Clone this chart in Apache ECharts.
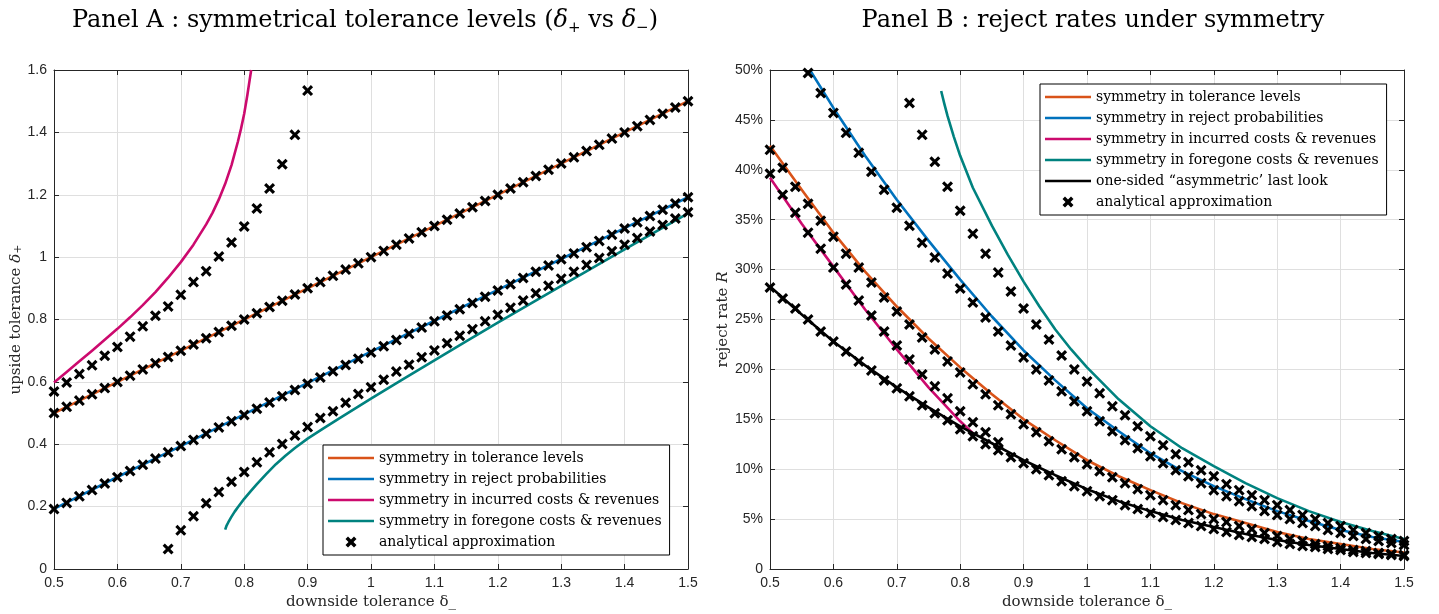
<!DOCTYPE html>
<html>
<head>
    <meta charset="UTF-8">
    <title>Symmetry panels</title>
    <style>
        html, body { margin: 0; padding: 0; background: #fff; }
        #chart { width: 1439px; height: 614px; }
    </style>
    <script src="https://cdn.jsdelivr.net/npm/echarts@6/dist/echarts.min.js"></script>
</head>
<body>
<div id="chart"></div>
<script>
    // downside tolerance grid used by the approximation markers (step 0.02)
    var dm = [0.50, 0.52, 0.54, 0.56, 0.58, 0.60, 0.62, 0.64, 0.66, 0.68, 0.70, 0.72, 0.74, 0.76, 0.78, 0.80, 0.82,
        0.84, 0.86, 0.88, 0.90, 0.92, 0.94, 0.96, 0.98, 1.00, 1.02, 1.04, 1.06, 1.08, 1.10, 1.12, 1.14, 1.16, 1.18,
        1.20, 1.22, 1.24, 1.26, 1.28, 1.30, 1.32, 1.34, 1.36, 1.38, 1.40, 1.42, 1.44, 1.46, 1.48, 1.50];

    // ---- Panel A : upside tolerance vs downside tolerance
    var aTolX = [0.5, 1.0, 1.5];
    var aTolY = [0.5, 1.0, 1.5];
    var aRejX = [0.5, 0.6, 0.7, 0.8, 0.9, 1.0, 1.1, 1.2, 1.3, 1.4, 1.5];
    var aRejY = [0.193, 0.295, 0.394, 0.496, 0.597, 0.697, 0.796, 0.895, 0.994, 1.093, 1.192];
    var aIncX = [0.5, 0.52, 0.54, 0.56, 0.58, 0.6, 0.62, 0.64, 0.66, 0.68, 0.7, 0.72, 0.74, 0.75, 0.76, 0.77, 0.78, 0.79, 0.795, 0.8, 0.805, 0.811];
    var aIncY = [0.598, 0.632, 0.666, 0.700, 0.735, 0.770, 0.807, 0.846, 0.888, 0.934, 0.984, 1.040, 1.105, 1.142, 1.185, 1.235, 1.295, 1.37, 1.412, 1.46, 1.52, 1.60];
    var aForX = [0.770, 0.772, 0.775, 0.78, 0.785, 0.79, 0.80, 0.81, 0.82, 0.835, 0.85, 0.865, 0.88, 0.9, 0.925, 0.95, 1.0, 1.05, 1.1, 1.15, 1.2, 1.3, 1.4, 1.5];
    var aForY = [0.126, 0.138, 0.150, 0.168, 0.184, 0.198, 0.225, 0.249, 0.272, 0.305, 0.336, 0.363, 0.388, 0.418, 0.451, 0.483, 0.546, 0.608, 0.669, 0.730, 0.790, 0.908, 1.025, 1.140];

    var aTolCross = [0.50, 0.52, 0.54, 0.56, 0.58, 0.60, 0.62, 0.64, 0.66, 0.68, 0.70, 0.72, 0.74, 0.76, 0.78, 0.80, 0.82,
        0.84, 0.86, 0.88, 0.90, 0.92, 0.94, 0.96, 0.98, 1.00, 1.02, 1.04, 1.06, 1.08, 1.10, 1.12, 1.14, 1.16, 1.18,
        1.20, 1.22, 1.24, 1.26, 1.28, 1.30, 1.32, 1.34, 1.36, 1.38, 1.40, 1.42, 1.44, 1.46, 1.48, 1.50];
    var aRejCross = [0.192, 0.212, 0.233, 0.253, 0.274, 0.294, 0.314, 0.334, 0.354, 0.374, 0.394, 0.414, 0.434, 0.454,
        0.474, 0.494, 0.514, 0.534, 0.554, 0.574, 0.594, 0.614, 0.634, 0.654, 0.674, 0.694, 0.714, 0.734, 0.754, 0.774,
        0.794, 0.813, 0.833, 0.853, 0.873, 0.893, 0.913, 0.933, 0.953, 0.973, 0.993, 1.012, 1.032, 1.052, 1.072, 1.092,
        1.112, 1.132, 1.152, 1.172, 1.192];
    var aIncCross = [0.569, 0.598, 0.625, 0.653, 0.684, 0.712, 0.745, 0.778, 0.812, 0.842, 0.879, 0.920, 0.955, 1.002,
        1.047, 1.098, 1.156, 1.220, 1.298, 1.392, 1.534];          // from 0.50
    var aForCross = [0.064, 0.124, 0.169, 0.211, 0.247, 0.280, 0.311, 0.342, 0.374, 0.401, 0.428, 0.455, 0.484, 0.506,
        0.533, 0.561, 0.583, 0.607, 0.633, 0.655, 0.679, 0.701, 0.724, 0.748, 0.769, 0.794, 0.815, 0.838, 0.861, 0.884,
        0.908, 0.931, 0.953, 0.975, 0.997, 1.019, 1.040, 1.061, 1.082, 1.103, 1.124, 1.144];   // from 0.68

    // ---- Panel B : reject rates (%)
    var bX = [0.5, 0.55, 0.6, 0.65, 0.7, 0.75, 0.8, 0.85, 0.9, 0.95, 1.0, 1.05, 1.1, 1.15, 1.2, 1.25, 1.3, 1.35, 1.4, 1.45, 1.5];
    var bTolY = [42.4, 38.0, 33.7, 29.8, 26.3, 23.1, 20.2, 17.5, 15.0, 12.9, 10.9, 9.3, 7.9, 6.6, 5.5, 4.6, 3.7, 3.0, 2.5, 2.0, 1.65];
    var bOneY = [28.3, 25.5, 22.8, 20.4, 18.2, 16.2, 14.3, 12.6, 10.9, 9.4, 8.0, 6.8, 5.8, 4.9, 4.2, 3.5, 2.9, 2.4, 2.0, 1.6, 1.3];
    var bRejX = [0.563, 0.6, 0.65, 0.7, 0.75, 0.8, 0.85, 0.9, 0.95, 1.0, 1.05, 1.1, 1.15, 1.2, 1.25, 1.3, 1.35, 1.4, 1.45, 1.5];
    var bRejY = [50.0, 46.2, 41.4, 37.0, 32.9, 29.0, 25.3, 21.9, 18.9, 16.1, 13.8, 11.6, 9.8, 8.3, 7.0, 5.8, 4.8, 3.9, 3.2, 2.7];
    var bIncX = [0.5, 0.55, 0.6, 0.65, 0.7, 0.75, 0.8, 0.82];
    var bIncY = [39.2, 34.6, 30.3, 26.0, 22.0, 18.2, 14.8, 13.6];
    var bForX = [0.77, 0.775, 0.78, 0.79, 0.80, 0.82, 0.85, 0.875, 0.90, 0.925, 0.95, 0.975, 1.0, 1.05, 1.1, 1.15, 1.2, 1.25, 1.3, 1.35, 1.4, 1.45, 1.5];
    var bForY = [47.9, 46.6, 45.4, 43.3, 41.4, 38.2, 34.4, 31.5, 28.8, 26.3, 24.0, 22.0, 20.2, 17.0, 14.3, 12.1, 10.3, 8.6, 7.1, 5.8, 4.7, 3.8, 3.0];

    var bTolCross = [42.0, 40.2, 38.3, 36.6, 34.9, 33.3, 31.6, 30.2, 28.7, 27.2, 25.8, 24.5, 23.2, 22.0, 20.8, 19.7, 18.5,
        17.5, 16.4, 15.5, 14.5, 13.7, 12.8, 12.0, 11.2, 10.5, 9.8, 9.2, 8.6, 8.0, 7.4, 6.9, 6.4, 5.9, 5.5, 5.0, 4.7, 4.3,
        4.0, 3.6, 3.3, 3.0, 2.8, 2.5, 2.3, 2.1, 1.9, 1.8, 1.6, 1.5, 1.4];
    var bOneCross = [28.2, 27.1, 26.1, 25.0, 23.8, 22.8, 21.8, 20.8, 19.9, 18.9, 18.1, 17.3, 16.4, 15.6, 14.9, 14.0, 13.3,
        12.5, 11.9, 11.2, 10.6, 10.0, 9.4, 8.8, 8.3, 7.8, 7.3, 6.9, 6.4, 6.0, 5.6, 5.2, 4.9, 4.6, 4.3, 4.0, 3.7, 3.4,
        3.2, 3.0, 2.7, 2.5, 2.3, 2.2, 2.0, 1.9, 1.7, 1.6, 1.5, 1.4, 1.3];
    var bIncCross = [39.6, 37.5, 35.7, 33.7, 32.1, 30.2, 28.5, 26.9, 25.4, 23.8, 22.4, 21.0, 19.5, 18.3, 17.1, 15.8,
        14.7, 13.7, 12.7];                                          // from 0.50
    var bRejCross = [49.7, 47.7, 45.7, 43.7, 41.7, 39.8, 38.0, 36.2, 34.4, 32.7, 31.2, 29.6, 28.1, 26.7, 25.2, 23.8,
        22.4, 21.2, 20.0, 18.9, 17.8, 16.8, 15.8, 14.8, 13.8, 12.9, 12.1, 11.3, 10.6, 9.9, 9.3, 8.6, 7.9, 7.3, 6.8, 6.3,
        5.8, 5.4, 5.0, 4.6, 4.3, 3.9, 3.6, 3.3, 3.0, 2.8, 2.6, 2.4];                       // from 0.56
    var bForCross = [46.7, 43.5, 40.8, 38.3, 35.9, 33.6, 31.6, 29.7, 27.8, 26.1, 24.5, 23.0, 21.4, 20.0, 18.8, 17.6,
        16.3, 15.4, 14.3, 13.3, 12.4, 11.5, 10.7, 9.9, 9.3, 8.5, 7.9, 7.4, 6.9, 6.4, 5.9, 5.4, 5.0, 4.6, 4.3, 3.9, 3.6,
        3.3, 3.0, 2.8];                                             // from 0.72

    var NAMES = ['symmetry in tolerance levels', 'symmetry in reject probabilities',
        'symmetry in incurred costs & revenues', 'symmetry in foregone costs & revenues',
        'one-sided \u201casymmetric\u2019 last look', 'analytical approximation'];
    var COLORS = ['#D95319', '#0072BD', '#CC0A6E', '#00827F', '#000000'];

    var CROSS = 'path://M2,0 L5,3 L8,0 L10,2 L7,5 L10,8 L8,10 L5,7 L2,10 L0,8 L3,5 L0,2 Z';
    // legend icons drawn inside a 46x16 box (corner specks fix the bounding box)
    var BOX = 'M0,0h0.05v0.05h-0.05Z M46,16h-0.05v-0.05h0.05Z ';
    var CROSS_ICON = 'path://' + BOX + 'M20,2.5 L23,5.5 L26,2.5 L28.5,5 L25.5,8 L28.5,11 L26,13.5 L23,10.5 L20,13.5 L17.5,11 L20.5,8 L17.5,5 Z';
    var LINE_ICON = 'path://' + BOX + 'M0,6.7h46v2.6h-46Z';

    function pairs(xs, ys) {
        return xs.map(function (x, i) { return [x, ys[i]]; });
    }

    function lineSeries(k, xs, ys, g) {
        return {
            name: NAMES[k], type: 'line', xAxisIndex: g * 2, yAxisIndex: g * 2,
            data: pairs(xs, ys), symbol: 'none', showSymbol: false,
            smooth: false, clip: true, z: 2,
            lineStyle: {color: COLORS[k], width: 2.6, join: 'round'}, itemStyle: {color: COLORS[k]}
        };
    }

    function crossSeries(start, ys, g) {
        return {
            name: NAMES[5], type: 'scatter', xAxisIndex: g * 2, yAxisIndex: g * 2,
            data: pairs(dm.slice(start, start + ys.length), ys),
            symbol: CROSS, symbolSize: 11, clip: true, z: 5,
            itemStyle: {color: '#000', opacity: 1}
        };
    }

    var ink = '#262626';
    var serif = 'DejaVu Serif';
    var tickFont = {color: ink, fontFamily: 'Liberation Sans', fontSize: 14};
    var nameFont = {color: ink, fontFamily: serif, fontSize: 15};

    function xAxes(g) {
        var base = {type: 'value', gridIndex: g, min: 0.5, max: 1.5, interval: 0.1};
        return [
            Object.assign({}, base, {
                position: 'bottom', name: 'downside tolerance \u03b4_', nameLocation: 'middle', nameGap: 26,
                nameTextStyle: nameFont,
                axisLine: {show: true, onZero: false, lineStyle: {color: ink, width: 1}},
                axisTick: {show: true, inside: true, length: 5, lineStyle: {color: ink}},
                axisLabel: Object.assign({margin: 7}, tickFont),
                splitLine: {show: true, lineStyle: {color: '#dfdfdf', width: 1}}
            }),
            Object.assign({}, base, {
                position: 'top',
                axisLine: {show: true, onZero: false, lineStyle: {color: ink, width: 1}},
                axisTick: {show: true, inside: true, length: 5, lineStyle: {color: ink}},
                axisLabel: {show: false}, splitLine: {show: false}
            })
        ];
    }

    function yAxes(g, max, step, name, gap, fmt) {
        var base = {type: 'value', gridIndex: g, min: 0, max: max, interval: step};
        return [
            Object.assign({}, base, {
                position: 'left', name: name, nameLocation: 'middle', nameGap: gap,
                nameTextStyle: Object.assign({
                    rich: {
                        n: {fontFamily: serif, fontSize: 15, color: ink},
                        i: {fontFamily: serif, fontSize: 15, fontStyle: 'italic', color: ink},
                        s: {fontFamily: serif, fontSize: 11, color: ink, verticalAlign: 'bottom', lineHeight: 10}
                    }
                }, nameFont),
                axisLine: {show: true, onZero: false, lineStyle: {color: ink, width: 1}},
                axisTick: {show: true, inside: true, length: 5, lineStyle: {color: ink}},
                axisLabel: Object.assign({margin: 7, formatter: fmt}, tickFont),
                splitLine: {show: true, lineStyle: {color: '#dfdfdf', width: 1}}
            }),
            Object.assign({}, base, {
                position: 'right',
                axisLine: {show: true, onZero: false, lineStyle: {color: ink, width: 1}},
                axisTick: {show: true, inside: true, length: 5, lineStyle: {color: ink}},
                axisLabel: {show: false}, splitLine: {show: false}
            })
        ];
    }

    var titleRich = {
        a: {fontFamily: serif, fontSize: 24, fontWeight: 'normal', color: '#000', lineHeight: 30},
        d: {fontFamily: serif, fontSize: 24, fontWeight: 'normal', fontStyle: 'italic', color: '#000', lineHeight: 30},
        s: {fontFamily: serif, fontSize: 15, fontWeight: 'normal', color: '#000', lineHeight: 14, verticalAlign: 'bottom'}
    };

    var legendBase = {
        orient: 'vertical', selectedMode: false,
        backgroundColor: '#fff', borderColor: '#000', borderWidth: 1,
        padding: [5, 8, 5, 5], itemGap: 5, itemWidth: 46, itemHeight: 16,
        textStyle: {fontFamily: serif, fontSize: 14, color: '#000'}
    };

    function legendItems(ks) {
        return ks.map(function (k) {
            return {name: NAMES[k], icon: k === 5 ? CROSS_ICON : LINE_ICON};
        });
    }

    var chart = echarts.init(document.getElementById('chart'), null, {renderer: 'canvas'});
    chart.setOption({
        animation: false,
        backgroundColor: '#fff',
        title: [
            {
                text: '{a|Panel A : symmetrical tolerance levels (}{d|\u03b4}{s|+}{a| vs }{d|\u03b4}{s|\u2212}{a|)}',
                left: 360, top: 1, textAlign: 'center', textStyle: {fontWeight: 'normal', rich: titleRich}
            },
            {
                text: '{a|Panel B : reject rates under symmetry}',
                left: 1088, top: 1, textAlign: 'center', textStyle: {fontWeight: 'normal', rich: titleRich}
            }
        ],
        legend: [
            Object.assign({}, legendBase, {left: 323, top: 445, data: legendItems([0, 1, 2, 3, 5])}),
            Object.assign({}, legendBase, {left: 1040, top: 84, data: legendItems([0, 1, 2, 3, 4, 5])})
        ],
        grid: [
            {left: 54, right: 751, top: 70, bottom: 45, outerBoundsMode: 'none'},
            {left: 770, right: 35, top: 70, bottom: 45, outerBoundsMode: 'none'}
        ],
        xAxis: xAxes(0).concat(xAxes(1)),
        yAxis: yAxes(0, 1.6, 0.2, '{n|upside tolerance }{i|\u03b4}{s|+}', 30, null)
            .concat(yAxes(1, 50, 5, '{n|reject rate }{i|R}', 39, function (v) { return v === 0 ? '0' : v + '%'; })),
        series: [
            lineSeries(0, aTolX, aTolY, 0),
            lineSeries(1, aRejX, aRejY, 0),
            lineSeries(2, aIncX, aIncY, 0),
            lineSeries(3, aForX, aForY, 0),
            crossSeries(0, aTolCross, 0),
            crossSeries(0, aRejCross, 0),
            crossSeries(0, aIncCross, 0),
            crossSeries(9, aForCross, 0),

            lineSeries(0, bX, bTolY, 1),
            lineSeries(1, bRejX, bRejY, 1),
            lineSeries(2, bIncX, bIncY, 1),
            lineSeries(3, bForX, bForY, 1),
            lineSeries(4, bX, bOneY, 1),
            crossSeries(0, bTolCross, 1),
            crossSeries(0, bOneCross, 1),
            crossSeries(0, bIncCross, 1),
            crossSeries(3, bRejCross, 1),
            crossSeries(11, bForCross, 1)
        ]
    });
</script>
</body>
</html>
